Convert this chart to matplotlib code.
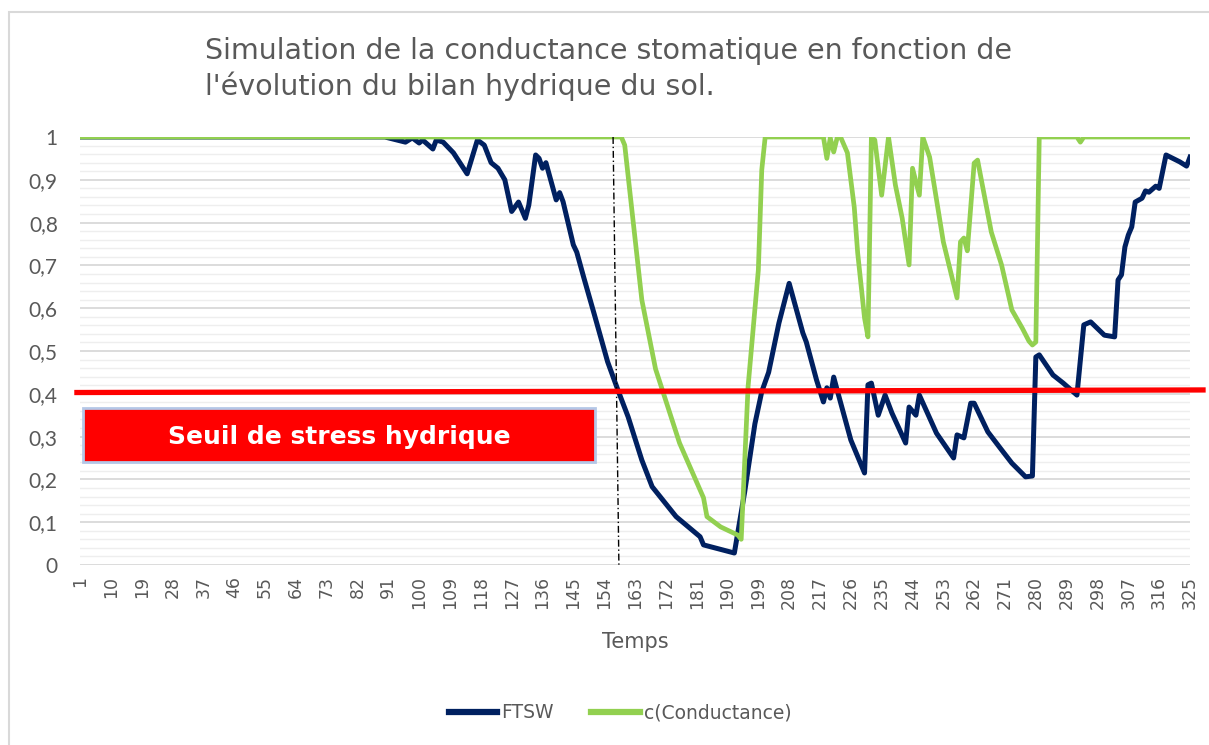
import numpy as np
import matplotlib.pyplot as plt
from matplotlib.patches import Rectangle
from matplotlib.lines import Line2D

plt.rcParams['font.family'] = ['DejaVu Sans']

# FTSW (fraction of transpirable soil water), sommets
ftsw_jour = [1, 90, 96, 98, 100, 101, 104, 105, 107, 110, 114, 117, 119, 121, 123, 125,
             127, 129, 131, 132, 134, 135, 136, 137, 140, 141, 142, 145, 146, 148, 151,
             155, 158, 161, 165, 168, 175, 182, 183, 192, 195, 198, 200, 202, 205, 208,
             212, 213, 216, 218, 219, 220, 221, 222, 226, 230, 231, 232, 234, 236, 238,
             242, 243, 245, 246, 251, 256, 257, 259, 261, 262, 266, 270, 273, 277, 279,
             280, 281, 285, 288, 292, 294, 296, 300, 303, 304, 305, 306, 307, 308, 309,
             311, 312, 313, 315, 316, 318, 321, 322, 324, 325]
ftsw_val = [1.0, 1.0, 0.988, 0.998, 0.986, 0.993, 0.972, 0.993, 0.988, 0.963, 0.914, 0.993,
            0.981, 0.94, 0.927, 0.9, 0.826, 0.848, 0.81, 0.841, 0.958, 0.95, 0.927, 0.94,
            0.853, 0.87, 0.849, 0.748, 0.731, 0.673, 0.589, 0.475, 0.409, 0.346, 0.245,
            0.183, 0.113, 0.066, 0.047, 0.028, 0.17, 0.33, 0.405, 0.45, 0.565, 0.658,
            0.542, 0.521, 0.432, 0.381, 0.414, 0.39, 0.439, 0.409, 0.292, 0.215, 0.421,
            0.425, 0.35, 0.397, 0.355, 0.285, 0.369, 0.35, 0.397, 0.308, 0.25, 0.304,
            0.297, 0.378, 0.378, 0.311, 0.269, 0.238, 0.206, 0.208, 0.486, 0.491, 0.444,
            0.425, 0.397, 0.561, 0.568, 0.537, 0.533, 0.666, 0.678, 0.743, 0.771, 0.79,
            0.848, 0.857, 0.874, 0.871, 0.885, 0.88, 0.958, 0.946, 0.942, 0.932, 0.953]

# conductance stomatique relative
cond_jour = [1, 159, 160, 162, 165, 169, 176, 183, 184, 188, 193, 194, 196, 199, 200, 201,
             218, 219, 220, 221, 222, 223, 225, 227, 228, 230, 231, 232, 233, 235, 237,
             239, 241, 243, 244, 246, 247, 249, 253, 257, 258, 259, 260, 262, 263, 267,
             270, 273, 276, 278, 279, 280, 281, 292, 293, 294, 325]
cond_val = [1.0, 1.0, 0.981, 0.836, 0.619, 0.458, 0.285, 0.157, 0.113, 0.089, 0.07, 0.06,
            0.416, 0.689, 0.923, 1.0, 1.0, 0.95, 0.998, 0.965, 0.998, 1.0, 0.963, 0.836,
            0.729, 0.577, 0.533, 1.0, 0.993, 0.864, 1.0, 0.888, 0.81, 0.701, 0.927, 0.864,
            1.0, 0.953, 0.755, 0.624, 0.755, 0.764, 0.734, 0.939, 0.946, 0.778, 0.701,
            0.596, 0.554, 0.523, 0.514, 0.521, 1.0, 1.0, 0.988, 1.0, 1.0]

# seuil de stress hydrique et jour ou FTSW le franchit
seuil_x = [0.1, 328.8]
seuil_y = [0.403, 0.409]
franchissement_x = [156.6, 158.3]
franchissement_y = [1.0, 0.0]

x_ticks = list(range(1, 326, 9))
y_ticks = [i / 10 for i in range(11)]

W, H = 1209, 745
fig = plt.figure(figsize=(W / 100, H / 100), dpi=100)

# cadre du graphique
fig.patches.append(Rectangle((9 / W, -0.02), 1.05, (H - 12) / H + 0.02,
                             transform=fig.transFigure, fill=False,
                             edgecolor='#d9d9d9', lw=1.5))

ax = fig.add_axes([80 / W, 180 / H, 1110 / W, 428 / H])
ax.set_xlim(1, 325)
ax.set_ylim(0, 1)
for s in ax.spines.values():
    s.set_visible(False)

ax.set_yticks(y_ticks)
ax.set_yticklabels([('%g' % v).replace('.', ',') for v in y_ticks], family='Lato')
ax.set_yticks(np.arange(0, 1.001, 0.02), minor=True)
ax.grid(which='major', axis='y', color='#d9d9d9', lw=1.3)
ax.grid(which='minor', axis='y', color='#eeeeee', lw=1.0)
ax.set_axisbelow(True)

ax.set_xticks(x_ticks)
ax.set_xticklabels([str(v) for v in x_ticks], rotation=90, va='top', ha='center')
ax.tick_params(which='both', length=0, colors='#595959')
ax.tick_params(axis='y', labelsize=15, pad=16)
ax.tick_params(axis='x', labelsize=12.5, pad=8)

ax.plot(ftsw_jour, ftsw_val, color='#002060', lw=3.6, zorder=3, solid_joinstyle='round')
ax.plot(cond_jour, cond_val, color='#92D050', lw=3.4, zorder=4, solid_joinstyle='round')
ax.plot(franchissement_x, franchissement_y, color='black', lw=1,
        dashes=(5, 2, 1, 2), zorder=5)
ax.plot(seuil_x, seuil_y, color='#ff0000', lw=3.8, zorder=6, clip_on=False)

ax.set_xlabel('Temps', fontsize=15, color='#595959', labelpad=16)

# etiquette du seuil
fig.patches.append(Rectangle((83 / W, (H - 462) / H), (595 - 83) / W, 54 / H,
                             transform=fig.transFigure, facecolor='#ff0000',
                             edgecolor='#b4c7e7', lw=2, zorder=10))
fig.text(339 / W, (H - 437) / H, 'Seuil de stress hydrique', color='white',
         fontsize=18, fontweight='bold', ha='center', va='center', zorder=11)

fig.text(205 / W, (H - 69) / H,
         "Simulation de la conductance stomatique en fonction de\n"
         "l'évolution du bilan hydrique du sol.",
         fontsize=20.5, color='#595959', ha='left', va='center', linespacing=1.3)

handles = [Line2D([], [], color='#002060', lw=4.5),
           Line2D([], [], color='#92D050', lw=4.5)]
fig.legend(handles, ['FTSW', 'c(Conductance)'], loc='center',
           bbox_to_anchor=(620 / W, (H - 713) / H), ncol=2, frameon=False,
           fontsize=13.5, handlelength=2.6, handletextpad=0.2, columnspacing=2.0,
           labelcolor='#595959')

fig.savefig('out.png', dpi=100)
